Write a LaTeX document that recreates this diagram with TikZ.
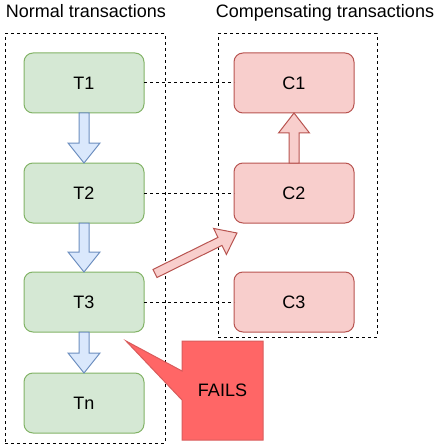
\documentclass[tikz,border=0pt]{standalone}
\usepackage{fontspec}
\setmainfont{Liberation Sans}
\usetikzlibrary{calc}
\definecolor{gfill}{HTML}{D5E8D4}
\definecolor{gline}{HTML}{82B366}
\definecolor{rfill}{HTML}{F8CECC}
\definecolor{rline}{HTML}{B85450}
\definecolor{bfill}{HTML}{DAE8FC}
\definecolor{bline}{HTML}{6C8EBF}
\definecolor{ffill}{HTML}{FF6666}
\definecolor{fline}{HTML}{D95C5C}
\newcommand\fatarrow[6]{% style, from, to, half shaft, half head, head length
  \coordinate (hb) at ($(#3)!#6!(#2)$);
  \filldraw[#1] ($(#2)!#4!90:(#3)$) -- ($(hb)!#4!90:(#3)$) -- ($(hb)!#5!90:(#3)$)
    -- (#3) -- ($(hb)!#5!-90:(#3)$) -- ($(hb)!#4!-90:(#3)$) -- ($(#2)!#4!-90:(#3)$) -- cycle;
}
\tikzset{
  txt/.style={font=\fontsize{18}{21}\selectfont},
  tbox/.style={txt, draw=gline, fill=gfill, line width=1pt, rounded corners=9pt,
    minimum width=120pt, minimum height=60pt, outer sep=0pt},
  cbox/.style={txt, draw=rline, fill=rfill, line width=1pt, rounded corners=9pt,
    minimum width=120pt, minimum height=60pt, outer sep=0pt},
  grp/.style={draw=black, line width=1pt, dash pattern=on 3pt off 3pt, outer sep=0pt, inner sep=0pt},
  link/.style={draw=black, line width=1pt, dash pattern=on 3pt off 3pt},
  barrow/.style={fill=bfill, draw=bline, line width=1pt, line join=miter},
  rarrow/.style={fill=rfill, draw=rline, line width=1pt, line join=miter},
  title/.style={txt, anchor=base, inner sep=0pt},
}
\begin{document}
\begin{tikzpicture}[x=1pt,y=-1pt]
\useasboundingbox (0,0) rectangle (445,444);
% titles
\node[title] (tl) at (86,18) {Normal transactions};
\node[title] (tr) at (325,18) {Compensating transactions};
% groups
\node[grp, minimum width=160pt, minimum height=409pt] (gl) at (85,238.5) {};
\node[grp, minimum width=159pt, minimum height=303pt] (gr) at (297.5,185.5) {};
% nodes
\node[tbox] (T1) at (84,83) {T1};
\node[tbox] (T2) at (84,193) {T2};
\node[tbox] (T3) at (84,302) {T3};
\node[tbox] (Tn) at (84,403) {Tn};
\node[cbox] (C1) at (294,83) {C1};
\node[cbox] (C2) at (294,193) {C2};
\node[cbox] (C3) at (294,302) {C3};
% dashed links
\draw[link] (T1.east) -- (C1.west);
\draw[link] (T2.east) -- (C2.west);
\draw[link] (T3.east) -- (C3.west);
% flow arrows
\fatarrow{barrow}{T1.south}{T2.north}{5pt}{16pt}{20pt}
\fatarrow{barrow}{T2.south}{T3.north}{5pt}{16pt}{20pt}
\fatarrow{barrow}{T3.south}{Tn.north}{5pt}{16pt}{20pt}
\fatarrow{rarrow}{C2.north}{C1.south}{5pt}{15.5pt}{20pt}
\coordinate (dtail) at (155,273.5);
\coordinate (dtip) at (237,233);
\fatarrow{rarrow}{dtail}{dtip}{4.5pt}{14.5pt}{19pt}
% FAILS callout
\coordinate (ftip) at (126,341);
\node[txt, minimum width=81pt, minimum height=99pt, outer sep=0pt, inner sep=0pt] (fails) at (222.5,390.5) {};
\filldraw[fill=ffill, draw=fline, line width=1pt, line join=miter]
  (fails.north west) -- (fails.north east) -- (fails.south east) -- (fails.south west)
  -- ($(fails.south west)+(0,-40)$) -- (ftip) -- ($(fails.north west)+(0,30)$) -- cycle;
\node[txt] at (fails.center) {FAILS};
\end{tikzpicture}
\end{document}
